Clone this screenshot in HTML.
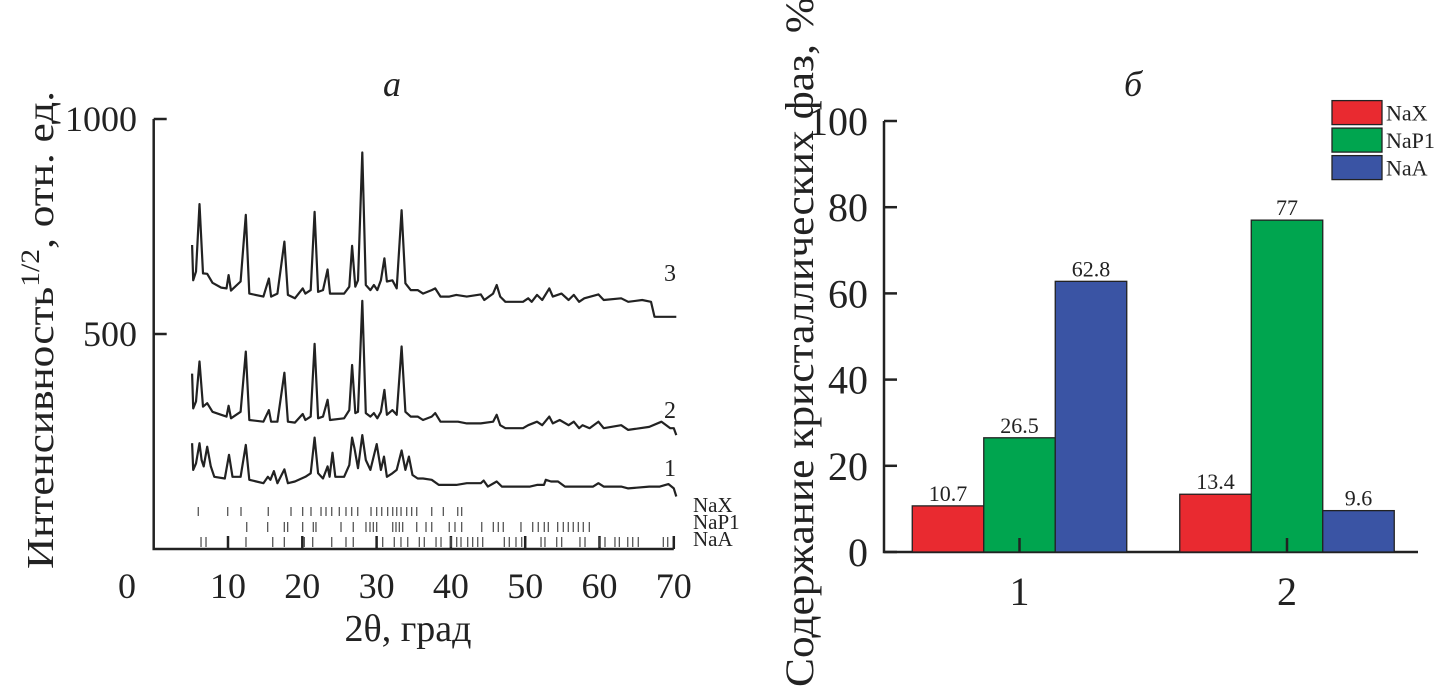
<!DOCTYPE html>
<html><head><meta charset="utf-8"><style>
html,body{margin:0;padding:0;background:#fff;}
svg{display:block;font-family:"Liberation Serif","DejaVu Serif",serif;}
</style></head><body>
<svg id="fig" width="1444" height="687" viewBox="0 0 1444 687" xmlns="http://www.w3.org/2000/svg">
<g id="left"></g>
<g id="right"></g>
</svg>
<script>
// ---------- XRD data (2θ, intensity) ----------
const c3x=[5.17,5.31,5.69,6.17,6.64,7.2,7.91,9.09,9.8,10.08,10.41,11.69,12.4,12.87,14.76,15.51,15.8,16.65,17.59,18.06,19.0,20.05,20.42,21.13,21.65,22.12,22.78,23.4,23.73,25.62,26.33,26.7,27.13,27.5,28.07,28.55,29.16,29.63,30.1,30.58,31.05,31.38,32.13,32.7,33.36,33.88,34.59,35.53,36.24,37.42,37.89,38.6,39.78,40.73,42.14,44.03,44.5,45.68,46.16,46.63,47.34,49.7,50.4,50.88,51.59,52.29,53.24,53.71,54.89,55.84,56.54,57.25,57.96,59.85,60.56,62.92,63.86,65.75,66.93,67.4,70.33];
const c3y=[707,625,645,802,641,640,619,608,606,637,601,622,777,594,587,629,587,594,715,591,583,606,594,602,784,598,602,650,594,594,610,705,610,625,922,614,602,614,602,625,676,622,625,606,788,618,602,602,594,602,606,587,587,591,587,592,579,594,614,587,575,575,583,575,591,579,606,587,594,579,591,575,583,592,579,583,575,579,575,540,540];
const c2x=[5.17,5.31,5.69,6.17,6.64,7.2,7.91,9.09,9.8,10.08,10.41,11.69,12.4,12.87,14.76,15.51,15.8,16.65,17.59,18.06,19.0,20.05,20.42,21.13,21.65,22.12,22.78,23.4,23.73,25.62,26.33,26.7,27.13,27.5,28.07,28.55,29.16,29.63,30.1,30.58,31.05,31.38,32.13,32.7,33.36,33.88,34.59,35.53,36.24,37.42,37.89,38.6,39.78,40.96,42.14,44.03,45.68,46.16,46.63,47.34,49.7,50.4,51.59,52.29,53.24,53.71,54.65,55.84,56.54,57.25,57.72,58.67,59.85,60.56,62.92,63.86,66.69,68.35,69.53,70.0,70.33];
const c2y=[408,327,343,436,331,339,319,312,308,333,304,319,459,300,296,323,296,296,410,296,294,314,300,308,477,304,308,347,300,304,323,428,316,319,577,316,308,316,304,319,370,312,323,312,471,319,308,308,300,308,316,296,296,296,292,292,296,312,288,281,281,288,296,288,308,292,300,288,296,281,288,281,296,281,288,277,284,296,281,281,265];
const c1x=[5.17,5.31,5.69,6.17,6.45,6.73,7.2,7.68,8.15,9.57,10.13,10.6,11.69,12.4,12.87,14.76,15.37,15.7,16.18,16.65,17.59,18.06,19.0,20.42,21.13,21.65,22.12,22.78,23.4,23.68,24.06,24.44,25.62,26.33,26.7,27.03,27.5,28.07,28.55,29.16,30.01,30.58,31.0,31.38,32.13,32.7,33.36,33.88,34.35,34.83,35.53,36.24,37.42,38.37,40.73,42.14,44.03,44.41,44.98,46.16,46.86,50.64,51.59,52.53,52.77,53.47,54.42,55.36,57.25,59.14,59.85,60.56,62.92,63.86,66.69,68.11,69.29,70.0,70.33];
const c1y=[246,184,199,246,207,192,238,192,168,164,219,168,168,242,161,153,168,161,181,153,185,153,157,168,176,259,176,164,192,168,224,168,168,195,259,234,188,265,207,184,244,184,215,168,176,184,229,184,215,172,164,164,161,149,149,153,153,159,145,157,145,145,149,149,161,157,157,145,145,145,153,145,145,141,145,145,151,141,122];
const refNaX=[6.0,9.96,11.75,15.42,18.48,20.05,21.17,22.52,23.19,23.96,24.98,25.88,26.65,27.46,29.25,30.01,30.69,31.49,32.17,32.71,33.29,34.05,34.72,35.4,37.42,38.98,40.92,41.45];
const refNaP1=[12.52,15.34,17.58,18.03,20.05,21.48,21.84,25.21,26.86,28.57,29.11,29.56,30.01,32.17,32.61,33.06,33.51,35.4,36.65,37.42,39.78,40.55,41.45,44.15,45.71,46.38,47.05,49.43,51.01,51.76,52.57,53.11,54.37,55.13,55.8,56.47,57.15,57.82,58.63];
const refNaA=[6.37,7.04,12.42,16.02,17.58,20.27,21.4,23.96,25.88,26.86,30.82,32.38,33.28,34.19,35.75,36.42,38.0,38.67,40.01,40.78,41.36,42.26,42.93,43.61,44.28,47.19,47.86,48.76,49.53,52.13,52.66,54.24,54.91,57.37,58.05,60.07,60.74,62.08,62.67,63.8,64.47,65.22,68.59,69.18];
const xTicksL=[0,10,20,30,40,50,60,70];
const yTicksL=[0,500,1000];
// ---------- Bar data ----------
const samples=["1","2"];
const phases=["NaX","NaP1","NaA"];
const valNaX=[10.7,13.4];
const valNaP1=[26.5,77];
const valNaA=[62.8,9.6];
const valLabels=[["10.7","26.5","62.8"],["13.4","77","9.6"]];
const yTicksR=[0,20,40,60,80,100];

const NS="http://www.w3.org/2000/svg";
function mk(parent,tag,attrs,text){const e=document.createElementNS(NS,tag);for(const k in attrs)e.setAttribute(k,attrs[k]);if(text!==undefined)e.textContent=text;parent.appendChild(e);return e;}

// ---------- left chart ----------
const L=document.getElementById('left');
const lx=t=>153.7+t*7.43;
const ly=v=>549-v*0.43;
let e;
e=mk(L,'path',{d:`M${lx(0)},${ly(1000)}H${lx(0)+13}M${lx(0)},${ly(1000)}V${ly(0)}H${lx(70)}M${lx(0)},${ly(500)}H${lx(0)+13}`,fill:'none',stroke:'#222','stroke-width':2.5});


xTicksL.forEach((t,i)=>{
  if(t>0){e=mk(L,'line',{x1:lx(t),x2:lx(t),y1:ly(0),y2:ly(0)-13,stroke:'#222','stroke-width':2.5});
  
  }
  e=mk(L,'text',{x:t===0?127:lx(t),y:598,'font-size':36,'text-anchor':'middle',fill:'#222'},String(t));
  
  
});
yTicksL.forEach(v=>{
  if(v===0)return;
  e=mk(L,'text',{x:137,y:ly(v)+12,'font-size':36,'text-anchor':'end',fill:'#222'},String(v));
  
  
});
function curve(xs,ys,name){
  let d='';xs.forEach((t,i)=>{d+=(i?'L':'M')+lx(t).toFixed(1)+','+ly(ys[i]).toFixed(1);});
  const p=mk(L,'path',{d:d,fill:'none',stroke:'#222','stroke-width':2.2,'stroke-linejoin':'round'});
  
  
}
curve(c3x,c3y,'pattern-3');curve(c2x,c2y,'pattern-2');curve(c1x,c1y,'pattern-1');
[["3",281],["2",418],["1",476]].forEach(a=>{
  e=mk(L,'text',{x:670,y:a[1],'font-size':24,'text-anchor':'middle',fill:'#222'},a[0]);
  
  
});
function refs(arr,y1,y2,name){
  arr.forEach(t=>{const r=mk(L,'line',{x1:lx(t),x2:lx(t),y1:y1,y2:y2,stroke:'#555','stroke-width':1.3});
  
  });
}
refs(refNaX,507,516,'nax-ref-line');refs(refNaP1,522,532,'nap1-ref-line');refs(refNaA,537,547,'naa-ref-line');
[["NaX",512],["NaP1",529],["NaA",546]].forEach(a=>{
  e=mk(L,'text',{x:693,y:a[1],'font-size':21,fill:'#222'},a[0]);
  
  
});
e=mk(L,'text',{x:392,y:96,'font-size':36,'font-style':'italic','text-anchor':'middle',fill:'#222'},'а');


e=mk(L,'text',{x:408,y:641,'font-size':38,'text-anchor':'middle',fill:'#222'},'2θ, град');


const yt=mk(L,'text',{transform:'translate(53,330) rotate(-90)','font-size':38,'text-anchor':'middle',fill:'#222',textLength:478,lengthAdjust:'spacingAndGlyphs'});


mk(yt,'tspan',{},'Интенсивность');mk(yt,'tspan',{dy:-14,'font-size':26},'1/2');mk(yt,'tspan',{dy:14},', отн. ед.');

// ---------- right chart ----------
const R=document.getElementById('right');
const ry=v=>552-v*4.31;
const groupC=[1019.5,1287];
const bw=71.5;
const colors=['#e92a30','#00a54f','#3a54a4'];
const series=[valNaX,valNaP1,valNaA];
e=mk(R,'path',{d:`M884,${ry(100)}V${ry(0)}H1418`,fill:'none',stroke:'#222','stroke-width':2.5});


yTicksR.forEach(v=>{
  e=mk(R,'line',{x1:884,x2:897,y1:ry(v),y2:ry(v),stroke:'#222','stroke-width':2.5});
  
  
  e=mk(R,'text',{x:868,y:ry(v)+14,'font-size':40,'text-anchor':'end',fill:'#222'},String(v));
  
  
});
samples.forEach((s,gi)=>{
  series.forEach((arr,si)=>{
    const x=groupC[gi]-1.5*bw+si*bw;
    const b=mk(R,'rect',{x:x,y:ry(arr[gi]),width:bw,height:ry(0)-ry(arr[gi]),fill:colors[si],stroke:'#222','stroke-width':1.3});
    
    
    const t=mk(R,'text',{x:x+bw/2,y:ry(arr[gi])-5,'font-size':22,'text-anchor':'middle',fill:'#222'},valLabels[gi][si]);
    
    
  });
  e=mk(R,'line',{x1:groupC[gi],x2:groupC[gi],y1:ry(0),y2:ry(0)-14,stroke:'#222','stroke-width':2.5});
  
  
  e=mk(R,'text',{x:groupC[gi],y:605,'font-size':40,'text-anchor':'middle',fill:'#222'},s);
  
  
});
phases.forEach((p,i)=>{
  const y=100.6+i*27.5;
  const r=mk(R,'rect',{x:1332,y:y,width:50,height:24,fill:colors[i],stroke:'#222','stroke-width':1.3});
  
  
  const t=mk(R,'text',{x:1386,y:y+20,'font-size':22,fill:'#222'},p);
  
  
});
e=mk(R,'text',{x:1133,y:96,'font-size':36,'font-style':'italic','text-anchor':'middle',fill:'#222'},'б');


e=mk(R,'text',{transform:'translate(813,342) rotate(-90)','font-size':40,'text-anchor':'middle',fill:'#222',textLength:690,lengthAdjust:'spacingAndGlyphs'},'Содержание кристаллических фаз, %');


</script>
</body></html>
